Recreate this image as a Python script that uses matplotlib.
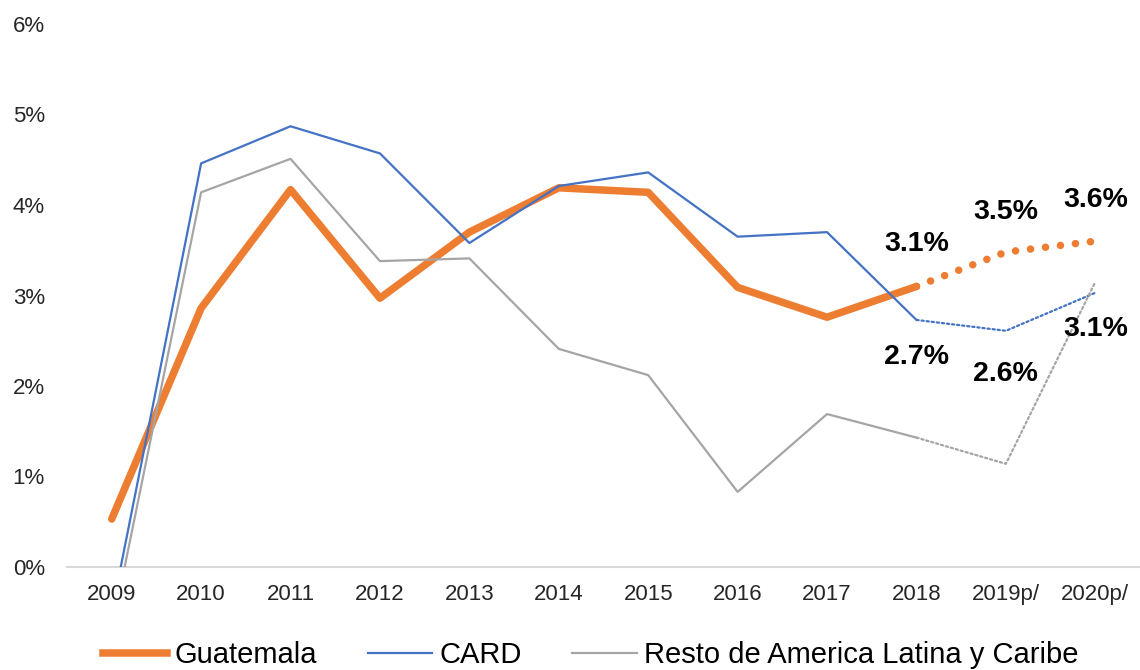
import matplotlib
matplotlib.use("Agg")
import matplotlib.pyplot as plt
from matplotlib.lines import Line2D

plt.rcParams['font.family'] = ['Liberation Sans', 'DejaVu Sans']

years = ["2009", "2010", "2011", "2012", "2013", "2014", "2015", "2016", "2017", "2018", "2019p/", "2020p/"]
guatemala = [0.53, 2.86, 4.17, 2.97, 3.70, 4.19, 4.14, 3.09, 2.76, 3.10, 3.48, 3.60]
card = [-0.5, 4.46, 4.87, 4.57, 3.58, 4.21, 4.36, 3.65, 3.70, 2.73, 2.61, 3.03]
resto = [-0.7, 4.14, 4.51, 3.38, 3.41, 2.41, 2.12, 0.83, 1.69, 1.43, 1.14, 3.15]
yticks = [0, 1, 2, 3, 4, 5, 6]
ytick_labels = ["0%", "1%", "2%", "3%", "4%", "5%", "6%"]
labels_top = ["3.1%", "3.5%", "3.6%"]
labels_bottom = ["2.7%", "2.6%", "3.1%"]

c_orange = "#ED7D31"
c_blue = "#4472C4"
c_gray = "#A5A5A5"

fig = plt.figure(figsize=(11.4, 6.7), dpi=100)
ax = fig.add_axes([67/1140, 103/670, 1073/1140, 543/670])

x = list(range(len(years)))
split = 9  # 2018 index: solid up to here, dotted after

series = [
    (guatemala, c_orange, 5.4, (0, (0.01, 2.0)), "Guatemala"),
    (card, c_blue, 1.6, (0, (1, 1.3)), "CARD"),
    (resto, c_gray, 1.6, (0, (1, 1.3)), "Resto de America Latina y Caribe"),
]
for i, (vals, col, lw, dstyle, name) in enumerate(series):
    ax.plot(x[:split+1], vals[:split+1], color=col, lw=lw, solid_capstyle='round',
            solid_joinstyle='round', zorder=3+i)
    ax.plot(x[split:], vals[split:], color=col, lw=lw, linestyle=dstyle,
            dash_capstyle='round', zorder=3+i)

ax.set_xlim(-0.5, len(years) - 0.5)
ax.set_ylim(0, 6)
ax.set_yticks(yticks)
ax.set_yticklabels(ytick_labels)
ax.set_xticks(x)
ax.set_xticklabels(years)
ax.tick_params(axis='both', length=0, labelsize=16, colors='#404040')
ax.tick_params(axis='y', pad=16)
ax.tick_params(axis='x', pad=12)
for s in ["top", "right", "left"]:
    ax.spines[s].set_visible(False)
ax.spines["bottom"].set_color("#D9D9D9")
ax.spines["bottom"].set_linewidth(1.5)
for lab in ax.get_xticklabels() + ax.get_yticklabels():
    lab.set_color('#262626')

# data labels
top_y = [3.57, 3.92, 4.05]
bot_y = [2.32, 2.13, 2.63]
for k, idx in enumerate([9, 10, 11]):
    ax.text(idx, top_y[k], labels_top[k], ha='center', va='center', fontsize=20.5,
            fontweight='bold', color='black', zorder=10)
    ax.text(idx, bot_y[k], labels_bottom[k], ha='center', va='center', fontsize=20.5,
            fontweight='bold', color='black', zorder=10)

handles = [Line2D([0], [0], color=c, lw=lw) for (_, c, lw, _, _) in series]
names = [n for (*_, n) in series]
leg = fig.legend(handles, names, loc='center', bbox_to_anchor=(0.518, 0.022), ncol=3,
                 frameon=False, fontsize=21, handlelength=2.2, columnspacing=1.75,
                 handletextpad=0.25, borderpad=0, borderaxespad=0)

fig.savefig("out.png", dpi=100)
